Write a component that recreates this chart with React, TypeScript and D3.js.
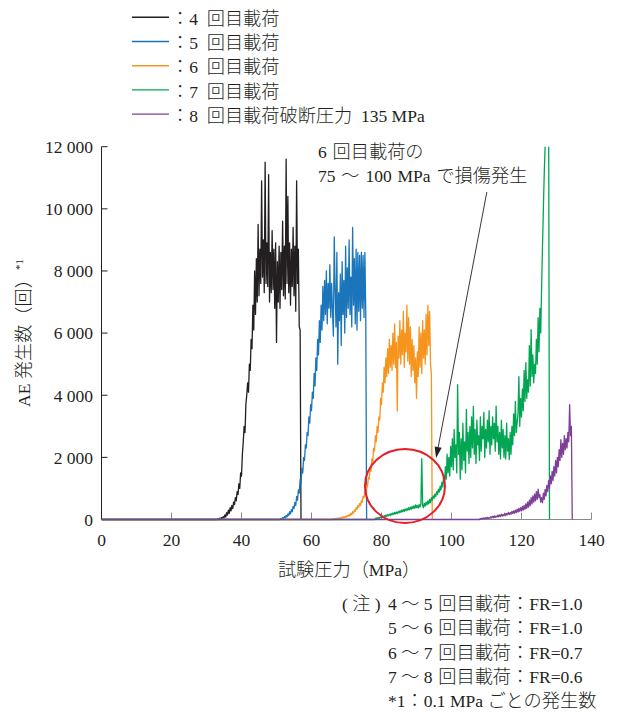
import React from "react";
import * as d3 from "d3";

// ---- data (AE hits per 0.1 MPa) ----
const xTicks = [0, 20, 40, 60, 80, 100, 120, 140];
const yTicks = [0, 2000, 4000, 6000, 8000, 10000, 12000];
const yTickLabels = ["0", "2 000", "4 000", "6 000", "8 000", "10 000", "12 000"];

const seriesLabels = [
  "：4\u2002回目載荷",
  "：5\u2002回目載荷",
  "：6\u2002回目載荷",
  "：7\u2002回目載荷",
  "：8\u2002回目載荷破断圧力\u2002135 MPa",
];
const seriesColors = ["#231f20", "#1b75bb", "#f7941d", "#00a651", "#7e3f98"];

// pressure (MPa) at which each listed value series begins; sample spacing in MPa
const seriesStart = [33, 51, 66, 78, 108];
const sampleStep = 0.25;

// 4th loading (black)
const ae4 = [
  0, 20, 0, 40,
  10, 60, 30, 90,
  50, 150, 80, 220,
  140, 300, 200, 380,
  280, 450, 350, 560,
  480, 700, 600, 900,
  800, 1150, 1000, 1500,
  1400, 2100, 2500, 3000,
  2800, 3700, 4000, 4400,
  4100, 5000, 4800, 5800,
  5500, 6900, 6100, 8000,
  6600, 8400, 7000, 9500,
  7200, 8700, 7600, 10900,
  7800, 9000, 7300, 11500,
  7600, 8900, 7500, 11100,
  7000, 8600, 7300, 9300,
  7400, 8700, 6800, 8900,
  5700, 8300, 7000, 8800,
  6800, 8600, 7400, 9600,
  7200, 8800, 7100, 11600,
  7600, 10400, 7300, 8900,
  6900, 8700, 7500, 9400,
  7200, 8800, 6700, 10900,
  7600, 8700, 6200, 6100,
  0,
];

// 5th loading (blue)
const ae5 = [
  0, 30, 10, 60,
  30, 90, 50, 130,
  80, 180, 130, 250,
  180, 320, 250, 420,
  350, 550, 450, 740,
  620, 950, 850, 1300,
  1150, 1650, 1500, 2000,
  1900, 2400, 2300, 2800,
  2700, 3300, 3100, 3700,
  3500, 4100, 3900, 4700,
  4300, 5200, 4800, 5800,
  5300, 6400, 5700, 6900,
  6100, 7500, 6400, 7700,
  6600, 8000, 6300, 7600,
  6800, 8200, 6500, 7600,
  6700, 5900, 9100, 7400,
  6200, 8600, 5000, 7300,
  6400, 7900, 5600, 8300,
  6600, 7700, 6000, 8800,
  6500, 8100, 6800, 9000,
  6600, 7800, 6200, 9400,
  6900, 8400, 6300, 8700,
  6100, 8600, 6700, 8500,
  6400, 8600, 6800, 8500,
  6500, 8600, 6700, 0,
];

// 6th loading (orange)
const ae6 = [
  0, 20, 0, 30,
  10, 40, 20, 50,
  30, 60, 40, 70,
  50, 90, 60, 110,
  80, 130, 100, 160,
  120, 200, 160, 250,
  200, 300, 260, 380,
  330, 450, 400, 520,
  450, 600, 550, 750,
  700, 900, 850, 1100,
  1050, 1350, 1300, 1650,
  1550, 1950, 1850, 2300,
  2200, 2700, 2500, 3000,
  2800, 3300, 3200, 3900,
  3700, 4400, 4100, 4900,
  4400, 5200, 4600, 5500,
  4700, 5800, 4900, 5600,
  4800, 6000, 5000, 6300,
  4900, 5700, 3500, 5900,
  5200, 6400, 5000, 6100,
  5300, 6700, 4900, 6000,
  5400, 6900, 5100, 6500,
  5000, 6200, 4600, 5800,
  4800, 5600, 4400, 5200,
  3900, 5400, 4600, 6200,
  4900, 6000, 4700, 6400,
  5200, 6100, 5000, 6600,
  5300, 6900, 5600, 6700,
  5000, 4700, 0,
];

// 7th loading (green)
const ae7 = [
  0, 40, 10, 60,
  30, 70, 40, 90,
  60, 100, 70, 120,
  90, 140, 100, 160,
  120, 170, 130, 190,
  150, 210, 160, 230,
  180, 240, 190, 260,
  210, 280, 230, 300,
  250, 320, 260, 340,
  280, 350, 300, 380,
  310, 400, 330, 420,
  350, 440, 360, 470,
  380, 450, 370, 480,
  400, 500, 1960, 450,
  380, 520, 430, 560,
  470, 600, 500, 650,
  540, 700, 620, 760,
  680, 820, 740, 900,
  800, 980, 880, 1070,
  950, 1200, 1050, 1400,
  1150, 1700, 1300, 2100,
  1500, 2000, 1400, 2350,
  1700, 2600, 1600, 2900,
  2000, 2400, 1500, 4340,
  2100, 2800, 1300, 2600,
  1600, 3100, 1900, 2500,
  1500, 3540, 2200, 2800,
  1800, 3000, 2000, 3300,
  2300, 3640, 2100, 2900,
  1800, 3200, 2400, 2700,
  1900, 3300, 2200, 3000,
  2600, 3450, 2000, 2900,
  2300, 3200, 2500, 3500,
  2100, 3000, 2400, 3300,
  2600, 3100, 2200, 3650,
  2500, 3000, 2100, 2800,
  1950, 3200, 2300, 2900,
  2000, 2700, 1950, 3100,
  2200, 2600, 1930, 2800,
  2100, 3000, 2400, 3400,
  2700, 3800, 2800, 3110,
  3400, 4600, 3000, 3900,
  3300, 4200, 3500, 4800,
  3800, 5050, 3900, 4500,
  4100, 5600, 4300, 6110,
  4600, 5300, 4400, 5000,
  4700, 5800, 5000, 6500,
  5400, 6800, 6000, 7500,
  8800, 10000, 11150, 12000,
  13500, 13500, 13500, 13500,
  0,
];

// 8th loading to burst (purple)
const ae8 = [
  0, 30, 10, 40,
  20, 50, 20, 60,
  30, 70, 30, 60,
  40, 90, 50, 100,
  60, 120, 70, 110,
  80, 140, 90, 150,
  100, 170, 110, 160,
  120, 200, 130, 190,
  150, 230, 160, 220,
  170, 260, 190, 280,
  200, 300, 220, 330,
  240, 360, 260, 380,
  280, 420, 300, 450,
  330, 500, 360, 560,
  400, 620, 450, 700,
  500, 760, 560, 820,
  600, 900, 650, 980,
  700, 800, 560, 700,
  540, 850, 650, 970,
  760, 1100, 900, 1250,
  1000, 1400, 1150, 1550,
  1250, 1700, 1400, 1900,
  1500, 2000, 1700, 2250,
  1900, 2570, 2000, 2450,
  2100, 2700, 2250, 2600,
  2300, 2800, 2500, 3700,
  2700, 3000, 0,
];

const seriesValues = [ae4, ae5, ae6, ae7, ae8];

// annotation anchors in data units [MPa, count]
const damageCircleCenter = [86.7, 1080];
const arrowFrom = [110.1, 10540];
const arrowTo = [95.6, 1980];

const annotationLines = ["6\u2004回目載荷の", "75\u2004～\u2004100\u2004MPa\u2004で損傷発生"];
const noteHead = "( 注 )";
const noteLines = [
  "4 ～ 5\u2004回目載荷：FR=1.0",
  "5 ～ 6\u2004回目載荷：FR=1.0",
  "6 ～ 7\u2004回目載荷：FR=0.7",
  "7 ～ 8\u2004回目載荷：FR=0.6",
  "*1：0.1 MPa ごとの発生数",
];
const xTitle = "試験圧力（MPa）";
const yTitle = "AE 発生数（回）";

// ---- styling ----
const W = 618;
const H = 713;
const LATIN = "'Liberation Serif', 'Times New Roman', serif";
const CJKF = "'Noto Sans CJK JP', 'Noto Sans CJK SC', sans-serif";
const LATIN_SIZE = 17.5;
const CJK_SIZE = 18.2;
const TEXT = "#231f20";

const isCJK = (ch: string) => /[\u3000-\u30ff\u3400-\u9fff\uff00-\uffef]/.test(ch);

function Mixed({ text }: { text: string }) {
  const runs: { s: string; c: boolean }[] = [];
  for (const ch of Array.from(text)) {
    const c = isCJK(ch);
    const last = runs[runs.length - 1];
    if (last && last.c === c) last.s += ch;
    else runs.push({ s: ch, c });
  }
  return (
    <>
      {runs.map((r, i) => (
        <tspan
          key={i}
          fontFamily={r.c ? CJKF : LATIN}
          fontSize={r.c ? CJK_SIZE : LATIN_SIZE}
          fontWeight={r.c ? 300 : 400}
        >
          {r.s}
        </tspan>
      ))}
    </>
  );
}

export default function App() {
  const x = d3.scaleLinear().domain([0, 140]).range([101.5, 591.5]);
  const y = d3.scaleLinear().domain([0, 12000]).range([519.5, 146.7]);

  const line = d3
    .line<[number, number]>()
    .x((d) => x(d[0]))
    .y((d) => y(d[1]));

  const series = seriesValues.map((vals, si) => {
    const pts: [number, number][] = [[0, 0]];
    vals.forEach((v, i) => pts.push([seriesStart[si] + i * sampleStep, v]));
    return pts;
  });

  const [x0, x1] = x.range();
  const [yb, yt] = y.range();

  // arrow geometry
  const ax1 = x(arrowFrom[0]);
  const ay1 = y(arrowFrom[1]);
  const ax2 = x(arrowTo[0]);
  const ay2 = y(arrowTo[1]);
  const ang = Math.atan2(ay2 - ay1, ax2 - ax1);
  const headL = 11;
  const headW = 3.6;
  const bx = ax2 - headL * Math.cos(ang);
  const by = ay2 - headL * Math.sin(ang);
  const head = [
    [ax2, ay2],
    [bx + headW * Math.sin(ang), by - headW * Math.cos(ang)],
    [bx - headW * Math.sin(ang), by + headW * Math.cos(ang)],
  ]
    .map((p) => p.join(","))
    .join(" ");

  const legendY0 = 17.3;
  const legendDy = 24.2;

  return (
    <svg
      width={W}
      height={H}
      viewBox={`0 0 ${W} ${H}`}
      style={{ position: "absolute", left: 0, top: 0, background: "#fff" }}
    >
      <rect width={W} height={H} fill="#fff" />
      <defs>
        <clipPath id="plotClip">
          <rect x={x0} y={yt} width={x1 - x0} height={yb - yt + 6} />
        </clipPath>
      </defs>

      {/* legend */}
      {seriesLabels.map((lab, i) => (
        <g key={lab}>
          <line
            x1={132}
            x2={169}
            y1={legendY0 + i * legendDy}
            y2={legendY0 + i * legendDy}
            stroke={seriesColors[i]}
            strokeWidth={1.4}
          />
          <text x={171} y={legendY0 + i * legendDy + 7.7} fill={TEXT}>
            <Mixed text={lab} />
          </text>
        </g>
      ))}

      {/* x axis */}
      <line x1={x0} x2={x1} y1={yb} y2={yb} stroke="#8a8a8a" strokeWidth={1} />
      {xTicks.map((t) => (
        <g key={t}>
          <line x1={x(t)} x2={x(t)} y1={yb} y2={yb - 7} stroke="#8a8a8a" strokeWidth={1} />
          <text
            x={x(t)}
            y={546}
            textAnchor="middle"
            fontFamily={LATIN}
            fontSize={LATIN_SIZE}
            fill={TEXT}
          >
            {t}
          </text>
        </g>
      ))}

      {/* y axis */}
      <line x1={x0} x2={x0} y1={yt} y2={yb} stroke={TEXT} strokeWidth={1} />
      {yTicks.map((t, i) => (
        <g key={t}>
          <line x1={x0} x2={x0 + 6} y1={y(t)} y2={y(t)} stroke={TEXT} strokeWidth={1} />
          <text
            x={93}
            y={y(t) + 6.3}
            textAnchor="end"
            fontFamily={LATIN}
            fontSize={LATIN_SIZE}
            fill={TEXT}
          >
            {yTickLabels[i]}
          </text>
        </g>
      ))}

      {/* data */}
      <g clipPath="url(#plotClip)">
        {series.map((pts, i) => (
          <path
            key={i}
            d={line(pts) || ""}
            fill="none"
            stroke={seriesColors[i]}
            strokeWidth={1.3}
            strokeLinejoin="round"
          />
        ))}
      </g>

      {/* damage circle + arrow */}
      <ellipse
        cx={x(damageCircleCenter[0])}
        cy={y(damageCircleCenter[1])}
        rx={40}
        ry={37}
        fill="none"
        stroke="#e41e26"
        strokeWidth={2}
      />
      <line x1={ax1} y1={ay1} x2={bx} y2={by} stroke={TEXT} strokeWidth={0.9} />
      <polygon points={head} fill={TEXT} />
      {annotationLines.map((t, i) => (
        <text key={i} x={318} y={158.3 + i * 23.6} fill={TEXT}>
          <Mixed text={t} />
        </text>
      ))}

      {/* axis titles */}
      <text x={349} y={575.5} textAnchor="middle" fill={TEXT}>
        <Mixed text={xTitle} />
      </text>
      <text transform="translate(29.5,333) rotate(-90)" textAnchor="middle" fill={TEXT}>
        <Mixed text={yTitle} />
        <tspan fontFamily={LATIN} fontSize={11} dy={-7}>
          *1
        </tspan>
      </text>

      {/* notes */}
      <text x={342} y={610} fill={TEXT}>
        <Mixed text={noteHead} />
      </text>
      {noteLines.map((t, i) => (
        <text key={i} x={388} y={610 + i * 24.3} fill={TEXT}>
          <Mixed text={t} />
        </text>
      ))}
    </svg>
  );
}
